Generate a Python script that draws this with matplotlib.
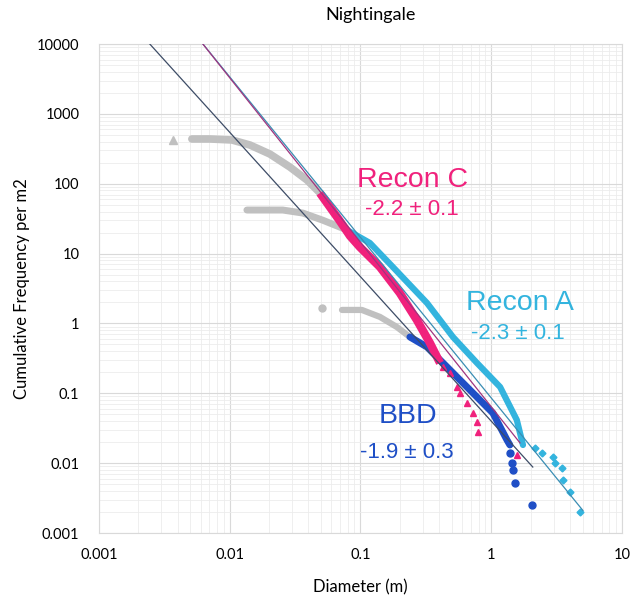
import matplotlib
matplotlib.use("Agg")
import matplotlib.pyplot as plt
from matplotlib.ticker import LogLocator, FixedLocator, NullFormatter

# values
# sub-resolution (grey) parts
greyC_d = [0.00514, 0.00706, 0.0104, 0.0143, 0.0203, 0.0289, 0.039, 0.049]
greyC_n = [437, 437, 423, 358, 266, 173, 113, 74]
greyC_first_d = [0.00368]
greyC_first_n = [423]
greyA_d = [0.01355, 0.0255, 0.0363, 0.0516, 0.0789]
greyA_n = [42, 42, 38, 30, 21.8]
greyB_d = [0.0508, 0.0723, 0.1026, 0.141, 0.19, 0.239]
greyB_n = [1.66, 1.56, 1.56, 1.24, 0.889, 0.64]

# Recon C (pink)
reconC_d = [0.049, 0.0697, 0.0832, 0.099, 0.141, 0.2, 0.27, 0.34, 0.406]
reconC_n = [73.6, 29.2, 17.9, 12.4, 6.43, 2.73, 1.12, 0.525, 0.272]
reconC_tail_d = [0.428, 0.483, 0.547, 0.577, 0.653, 0.725, 0.778, 0.792, 1.57]
reconC_tail_n = [0.238, 0.195, 0.123, 0.101, 0.0726, 0.0522, 0.0388, 0.0279, 0.0131]

# Recon A (cyan)
reconA_d = [0.0789, 0.118, 0.177, 0.323, 0.51, 0.778, 1.17, 1.57, 1.75]
reconA_n = [21.8, 14.2, 6.43, 1.96, 0.64, 0.272, 0.123, 0.0415, 0.0182]
reconA_tail_d = [2.16, 2.44, 2.97, 3.07, 3.48, 3.54, 4.0, 4.78]
reconA_tail_n = [0.0165, 0.014, 0.0122, 0.010, 0.0085, 0.0057, 0.0039, 0.0020]

# BBD (blue)
bbd_d = [0.239, 0.323, 0.428, 0.577, 0.778, 1.03, 1.32, 1.39]
bbd_n = [0.64, 0.46, 0.272, 0.155, 0.0885, 0.0522, 0.0215, 0.0182]
bbd_tail_d = [1.39, 1.44, 1.47, 1.52, 2.05]
bbd_tail_n = [0.014, 0.010, 0.008, 0.0052, 0.0025]

# power-law fit lines (end points)
fitB_d = [0.00245, 2.08]
fitB_n = [10000, 0.0088]
fitC_d = [0.0059, 1.66]
fitC_n = [11400, 0.0195]
fitA_d = [0.0059, 5.03]
fitA_n = [11400, 0.0021]

PINK = "#f0217c"
CYAN = "#33b4de"
BLUE = "#1f4fc6"
GREY = "#c0c0c0"

plt.rcParams["font.family"] = ["Lato", "DejaVu Sans"]

fig = plt.figure(figsize=(6.34, 6.02), dpi=100)
ax = fig.add_axes([0.156, 0.1146, 0.825, 0.8123])

ax.set_xscale("log")
ax.set_yscale("log")
ax.set_xlim(0.001, 10)
ax.set_ylim(0.001, 10000)

# grey parts
ax.plot(greyC_d, greyC_n, color=GREY, lw=5.5, solid_capstyle="round", zorder=2)
ax.plot(greyC_first_d, greyC_first_n, "^", color=GREY, ms=6, zorder=2)
ax.plot(greyA_d, greyA_n, color=GREY, lw=5, solid_capstyle="round", zorder=2)
ax.plot(greyB_d[1:], greyB_n[1:], color=GREY, lw=4.5, solid_capstyle="round", zorder=2)
ax.plot(greyB_d[:1], greyB_n[:1], "o", color=GREY, ms=5, zorder=2)

# fit lines
ax.plot(fitB_d, fitB_n, color="#3d4c66", lw=0.9, zorder=5)

# Recon A
ax.plot(reconA_d, reconA_n, color=CYAN, lw=4.5, solid_capstyle="round", zorder=3)
ax.plot(reconA_tail_d, reconA_tail_n, "D", color=CYAN, ms=3.5, zorder=3)

# BBD
ax.plot(bbd_d, bbd_n, color=BLUE, lw=5, solid_capstyle="round", zorder=3)
ax.plot(bbd_tail_d, bbd_tail_n, "o", color=BLUE, ms=5, zorder=3)

# Recon C
ax.plot(reconC_d, reconC_n, color=PINK, lw=6, solid_capstyle="butt", zorder=4)
ax.plot(reconC_tail_d, reconC_tail_n, "^", color=PINK, ms=4.5, zorder=4)

ax.plot(fitA_d, fitA_n, color="#3a8db3", lw=0.9, zorder=5)
ax.plot(fitC_d, fitC_n, color="#a0357f", lw=0.9, zorder=5)

# grid
ax.xaxis.set_major_locator(FixedLocator([0.001, 0.01, 0.1, 1, 10]))
ax.yaxis.set_major_locator(FixedLocator([0.001, 0.01, 0.1, 1, 10, 100, 1000, 10000]))
ax.xaxis.set_minor_locator(LogLocator(base=10, subs=range(2, 10), numticks=20))
ax.yaxis.set_minor_locator(LogLocator(base=10, subs=range(2, 10), numticks=20))
ax.xaxis.set_minor_formatter(NullFormatter())
ax.yaxis.set_minor_formatter(NullFormatter())
ax.set_xticklabels(["0.001", "0.01", "0.1", "1", "10"])
ax.set_yticklabels(["0.001", "0.01", "0.1", "1", "10", "100", "1000", "10000"])
ax.grid(which="major", color="#d9d9d9", lw=0.8)
ax.grid(which="minor", color="#ececec", lw=0.6)
ax.set_axisbelow(True)
ax.tick_params(which="both", length=0, labelsize=10.5, colors="#000000")
ax.tick_params(axis="x", pad=11)
ax.tick_params(axis="y", pad=14)
for s in ax.spines.values():
    s.set_color("#d9d9d9")
    s.set_linewidth(0.8)

ax.set_xlabel("Diameter (m)", fontsize=12, labelpad=12)
ax.set_ylabel("Cumulative Frequency per m2", fontsize=12, labelpad=5)
fig.text(371 / 634, 1 - 15 / 602, "Nightingale", fontsize=13, ha="center", va="center")

# annotations
ann = ["Liberation Sans", "DejaVu Sans"]
ax.text(0.252, 89.8, "Recon C", color=PINK, fontsize=20.5, ha="center", va="baseline", family=ann)
ax.text(0.248, 35.6, "-2.2 ± 0.1", color=PINK, fontsize=16, ha="center", va="baseline", family=ann)
ax.text(1.66, 1.56, "Recon A", color=CYAN, fontsize=20.5, ha="center", va="baseline", family=ann)
ax.text(1.60, 0.598, "-2.3 ± 0.1", color=CYAN, fontsize=16, ha="center", va="baseline", family=ann)
ax.text(0.231, 0.0376, "BBD", color=BLUE, fontsize=20.5, ha="center", va="baseline", family=ann)
ax.text(0.227, 0.01186, "-1.9 ± 0.3", color=BLUE, fontsize=16, ha="center", va="baseline", family=ann)

fig.savefig("out.png", dpi=100)
